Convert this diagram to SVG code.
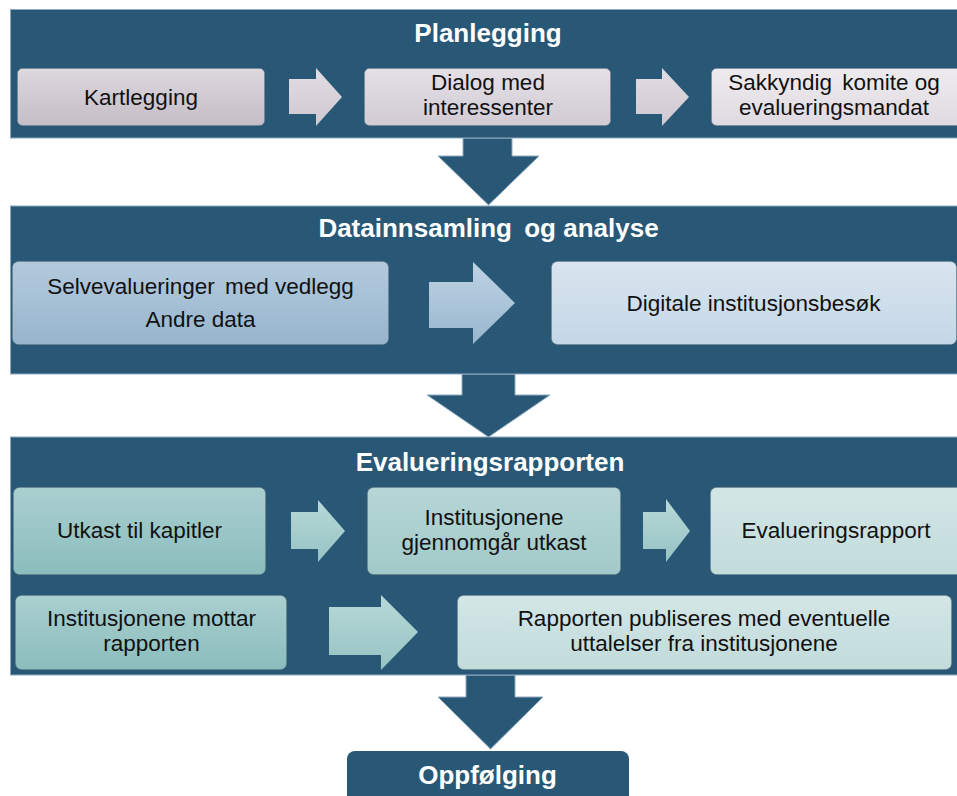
<svg xmlns="http://www.w3.org/2000/svg" width="957" height="796" viewBox="0 0 957 796">
<defs>
<linearGradient id="gP1" x1="0" y1="0" x2="0" y2="1"><stop offset="0" stop-color="#ddd7de"/><stop offset="1" stop-color="#c5bdc7"/></linearGradient>
<linearGradient id="gP2" x1="0" y1="0" x2="0" y2="1"><stop offset="0" stop-color="#e4e0e6"/><stop offset="1" stop-color="#d2cbd4"/></linearGradient>
<linearGradient id="gP3" x1="0" y1="0" x2="0" y2="1"><stop offset="0" stop-color="#eeebef"/><stop offset="1" stop-color="#dfdae1"/></linearGradient>
<linearGradient id="gPA" x1="0" y1="0" x2="0" y2="1"><stop offset="0" stop-color="#e2dce3"/><stop offset="1" stop-color="#cfc8d1"/></linearGradient>
<linearGradient id="gD1" x1="0" y1="0" x2="0" y2="1"><stop offset="0" stop-color="#b3cadd"/><stop offset="1" stop-color="#97b5cd"/></linearGradient>
<linearGradient id="gD2" x1="0" y1="0" x2="0" y2="1"><stop offset="0" stop-color="#d9e5ef"/><stop offset="1" stop-color="#c4d7e7"/></linearGradient>
<linearGradient id="gDA" x1="0" y1="0" x2="0" y2="1"><stop offset="0" stop-color="#bed2e3"/><stop offset="1" stop-color="#98b7cf"/></linearGradient>
<linearGradient id="gE1" x1="0" y1="0" x2="0" y2="1"><stop offset="0" stop-color="#aacfcf"/><stop offset="1" stop-color="#8bbdbd"/></linearGradient>
<linearGradient id="gE2" x1="0" y1="0" x2="0" y2="1"><stop offset="0" stop-color="#b6d6d6"/><stop offset="1" stop-color="#a2c9c9"/></linearGradient>
<linearGradient id="gE3" x1="0" y1="0" x2="0" y2="1"><stop offset="0" stop-color="#d3e6e6"/><stop offset="1" stop-color="#c2dbdb"/></linearGradient>
<linearGradient id="gEA" x1="0" y1="0" x2="0" y2="1"><stop offset="0" stop-color="#b8d8d8"/><stop offset="1" stop-color="#96c3c3"/></linearGradient>
</defs>
<style>
.panel{fill:#285876;stroke:#8eaac0;stroke-width:1}
.down{fill:#285876;stroke:#8eaac0;stroke-width:1}
.box{stroke:#6f7f88;stroke-opacity:0.45;stroke-width:1}
.title{font-family:"Liberation Sans",Arial,sans-serif;font-weight:bold;font-size:26px;fill:#ffffff;text-anchor:middle}
.t{font-family:"Liberation Sans",Arial,sans-serif;font-size:22.5px;fill:#111111;text-anchor:middle}
</style>

<g id="connectors">
<polygon class="down" points="463,138 512,138 512,156 539,156 488.5,205 438,156 463,156"/>
<polygon class="down" points="462,374 515,374 515,395 550,395 488.5,437 427,395 462,395"/>
<polygon class="down" points="466,675 515,675 515,697 543,697 490.5,749 438,697 466,697"/>
</g>

<g id="planlegging">
<rect class="panel" x="10.5" y="9.5" width="960" height="128.5"/>
<text class="title" x="488" y="42">Planlegging</text>
</g>
<g id="kartlegging">
<rect class="box" x="17.5" y="68.5" width="247" height="57" rx="5" fill="url(#gP1)"/>
<text class="t" x="141" y="105">Kartlegging</text>
</g>
<g id="arrow-p1">
<polygon points="289,79 316,79 316,68 342,97 316,126 316,114 289,114" fill="url(#gPA)"/>
</g>
<g id="dialog">
<rect class="box" x="364.5" y="68.5" width="246" height="57" rx="5" fill="url(#gP2)"/>
<text class="t" x="488" y="90">Dialog med</text>
<text class="t" x="488" y="115">interessenter</text>
</g>
<g id="arrow-p2">
<polygon points="636,79 662,79 662,68 689,97 662,126 662,114 636,114" fill="url(#gPA)"/>
</g>
<g id="sakkyndig">
<rect class="box" x="711.5" y="68.5" width="250" height="57" rx="5" fill="url(#gP3)"/>
<text class="t" x="834" y="90">Sakkyndig <tspan dx="4">komite og</tspan></text>
<text class="t" x="834" y="115">evalueringsmandat</text>
</g>

<g id="datainnsamling">
<rect class="panel" x="10.5" y="206" width="960" height="168"/>
<text class="title" x="488.5" y="237">Datainnsamling <tspan dx="5">og analyse</tspan></text>
</g>
<g id="selvevalueringer">
<rect class="box" x="12.5" y="261.5" width="376" height="83" rx="6" fill="url(#gD1)"/>
<text class="t" x="200.5" y="294">Selvevalueringer <tspan dx="4">med vedlegg</tspan></text>
<text class="t" x="200.5" y="327">Andre data</text>
</g>
<g id="arrow-d1">
<polygon points="429,282 473,282 473,262 515,303 473,344 473,328 429,328" fill="url(#gDA)"/>
</g>
<g id="digitale">
<rect class="box" x="551.5" y="261.5" width="405" height="83" rx="6" fill="url(#gD2)"/>
<text class="t" x="753.5" y="311">Digitale institusjonsbesøk</text>
</g>

<g id="evalueringsrapporten">
<rect class="panel" x="10.5" y="437" width="960" height="238"/>
<text class="title" x="490" y="471">Evalueringsrapporten</text>
</g>
<g id="utkast">
<rect class="box" x="13.5" y="487.5" width="252" height="87" rx="6" fill="url(#gE1)"/>
<text class="t" x="139.5" y="538">Utkast til kapitler</text>
</g>
<g id="arrow-e1">
<polygon points="291,512 318,512 318,500 345,531 318,562 318,549 291,549" fill="url(#gEA)"/>
</g>
<g id="gjennomgar">
<rect class="box" x="367.5" y="487.5" width="253" height="87" rx="6" fill="url(#gE2)"/>
<text class="t" x="494" y="525">Institusjonene</text>
<text class="t" x="494" y="550">gjennomgår utkast</text>
</g>
<g id="arrow-e2">
<polygon points="643,512 666,512 666,499 690,531 666,562 666,549 643,549" fill="url(#gEA)"/>
</g>
<g id="evalueringsrapport">
<rect class="box" x="710.5" y="487.5" width="252" height="87" rx="6" fill="url(#gE3)"/>
<text class="t" x="836" y="538">Evalueringsrapport</text>
</g>
<g id="mottar">
<rect class="box" x="15.5" y="595.5" width="271" height="74" rx="6" fill="url(#gE1)"/>
<text class="t" x="151.5" y="626">Institusjonene mottar</text>
<text class="t" x="151.5" y="651">rapporten</text>
</g>
<g id="arrow-e3">
<polygon points="329,607 381,607 381,595 418,632 381,670 381,655 329,655" fill="url(#gEA)"/>
</g>
<g id="publiseres">
<rect class="box" x="457.5" y="595.5" width="494" height="74" rx="6" fill="url(#gE3)"/>
<text class="t" x="704" y="626">Rapporten publiseres med eventuelle</text>
<text class="t" x="704" y="651">uttalelser fra institusjonene</text>
</g>

<g id="oppfolging">
<rect x="347" y="751" width="282" height="60" rx="8" fill="#285876"/>
<text class="title" x="487.5" y="784">Oppfølging</text>
</g>
</svg>
